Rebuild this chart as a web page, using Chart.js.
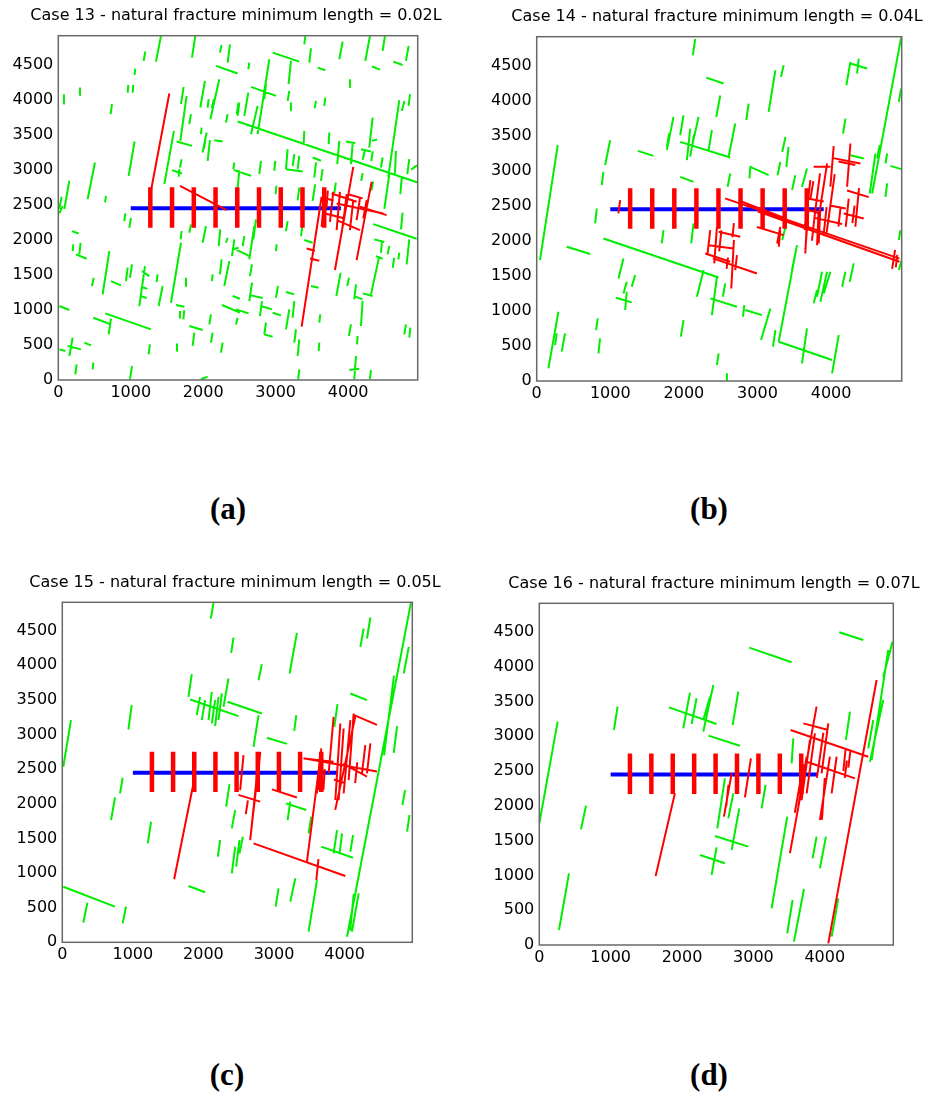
<!DOCTYPE html>
<html><head><meta charset="utf-8">
<script src="https://cdn.jsdelivr.net/npm/chart.js@4.4.1/dist/chart.umd.min.js"></script>
<style>
html,body{margin:0;padding:0;background:#fff;overflow:hidden;}
body{width:933px;height:1093px;position:relative;}
canvas{position:absolute;}
.lbl{position:absolute;font:bold 31px "Liberation Serif","Times New Roman",serif;color:#000;transform:translate(-50%,-50%);white-space:nowrap;}
</style></head><body>
<canvas id="c0" width="466" height="410" style="left:0;top:0"></canvas>
<canvas id="c1" width="463" height="410" style="left:470px;top:0"></canvas>
<canvas id="c2" width="466" height="410" style="left:0;top:560px"></canvas>
<canvas id="c3" width="463" height="410" style="left:470px;top:560px"></canvas>
<div class="lbl" id="l0" style="left:228px;top:509px"></div>
<div class="lbl" id="l1" style="left:709px;top:509px"></div>
<div class="lbl" id="l2" style="left:227px;top:1075px"></div>
<div class="lbl" id="l3" style="left:709px;top:1075px"></div>
<script>
// ---------------- DATA ----------------
const titles = [
  "Case 13 - natural fracture minimum length = 0.02L",
  "Case 14 - natural fracture minimum length = 0.04L",
  "Case 15 - natural fracture minimum length = 0.05L",
  "Case 16 - natural fracture minimum length = 0.07L"
];
const panelLabels = ["(a)", "(b)", "(c)", "(d)"];
const xTicks = [0, 1000, 2000, 3000, 4000];
const yTicks = [0, 500, 1000, 1500, 2000, 2500, 3000, 3500, 4000, 4500];
const domainX = [0, 4960];
const domainY = [0, 4910];

// horizontal wellbore [x1,y1,x2,y2]
const wellbore = [1000, 2450, 3900, 2450];
// hydraulic fracture stages (x position) and their vertical extent
const hfX = [1270, 1570, 1870, 2170, 2470, 2770, 3070, 3370, 3670];
const hfY = [2170, 2750];

// natural fractures (green) and propagated / activated fractures (red), [x1,y1,x2,y2] in m
const greenA = [
[1348,4541,1417,4907],[1178,4550,1201,4684],[1845,4598,1891,4907],[2231,4670,2254,4779],[2337,4527,2369,4788],
[2176,4479,2475,4370],[1053,4351,1063,4441],[957,4099,966,4209],[1026,4099,1035,4209],[290,4066,299,4170],
[69,3943,78,4075],[722,3791,741,3933],[1693,3933,1730,4180],[1960,3886,2024,4266],[2098,3719,2222,4289],
[1684,3411,1771,4052],[2116,3876,2148,4004],[2061,3886,2075,4004],[2461,3791,2489,3957],[1808,3648,1831,3791],
[2314,3672,2337,3791],[1969,3506,1978,3600],[1992,3244,2047,3529],[2061,3126,2093,3420],[2153,3420,2268,3401],
[1633,3401,1845,3339],[1463,2793,1596,3553],[971,2912,1053,3401],[405,2579,506,3102],[83,2437,152,2841],
[14,2437,46,2613],[644,2532,658,2627],[1679,3031,1702,3149],[1569,2993,1707,2945],[1661,2898,1670,3007],
[2415,3007,2429,3102],[2419,2993,2507,2974],[2010,3300,2030,3420],
[3395,4788,3409,4907],[4237,4550,4301,4907],[4476,4693,4508,4907],[3878,4574,3924,4826],[3464,4527,3487,4731],
[2958,4669,3326,4541],[2751,3505,2912,4574],[3178,4218,3211,4550],[2622,4432,2636,4527],[3579,4455,3685,4417],
[4329,4470,4439,4427],[4623,4541,4752,4493],[4798,4550,4835,4764],[4016,4180,4025,4289],[2659,4180,3004,4052],
[2843,4004,2866,4218],[3165,3980,3188,4123],[3202,3848,3211,3957],[3538,3876,3556,3980],[3671,3909,3685,4028],
[2567,3767,2622,4099],[2475,3767,2498,3957],[2659,3505,2751,3909],[2475,3686,4960,2817],[4554,2897,4706,3990],
[4743,3838,4775,3980],[4835,3909,4853,4075],[4292,3315,4338,3743],[3386,3363,3395,3553],[3731,3363,3740,3529],
[3850,3078,3878,3410],[3970,3401,4099,3377],[4039,3078,4062,3363],[3142,3007,3165,3292],[3142,3007,3372,2974],
[3234,3050,3257,3220],[3303,3007,3326,3197],[3510,3173,3625,3126],[3533,2888,3556,3102],[3625,2840,3648,3007],
[4177,3292,4315,3258],[4200,3140,4230,3270],[4320,3120,4340,3260],[4330,3410,4400,3430],[4453,3030,4476,3173],
[4646,2945,4660,3268],[4816,2935,4844,3149],[4870,3000,4950,3060],[2452,2983,2659,2912],[2774,2935,2797,3126],
[2981,2983,2995,3125],[3000,2650,3010,2770],[3303,2560,3326,2745],[3510,2555,3545,2790],[3810,2670,3830,2815],
[4180,2840,4200,2950],[4320,2700,4345,2830],[4500,2440,4568,2935],[4720,2650,4740,2890],[2475,2745,2498,2983],
[14,2375,60,2480],[911,2266,925,2375],[980,2171,1003,2313],[1546,2242,1555,2337],[1808,2100,1831,2218],
[1992,1957,2037,2195],[1688,2005,1702,2123],[2213,1910,2236,2147],[2314,1957,2337,2028],[2397,1767,2429,2005],
[2397,1862,2489,1886],[189,2123,281,2090],[198,1838,207,1933],[290,1791,308,1957],[244,1791,391,1729],
[612,1221,704,1838],[465,1340,488,1458],[727,1411,865,1349],[934,1411,957,1601],[989,1458,1017,1648],
[1118,1055,1196,1625],[1155,1553,1256,1482],[1140,1330,1230,1300],[1130,1200,1220,1170],[1357,1397,1371,1506],
[1385,1055,1440,1340],[1555,1102,1693,1957],[1753,1340,1762,1458],[2231,1506,2254,1720],[2291,1340,2360,1696],
[2121,1411,2130,1506],[2406,1197,2507,1159],[2259,1069,2507,960],[2452,793,2475,888],[14,1055,152,998],
[1624,1069,1739,1045],[1670,888,1679,983],[1725,865,1739,998],[2084,793,2107,936],[649,950,1279,722],
[483,888,727,793],[695,651,727,874],[1808,770,1992,713],[1854,485,1877,675],[2107,532,2130,675],
[2245,390,2268,532],[14,437,97,413],[152,342,198,603],[129,485,313,437],[359,532,451,494],
[1247,366,1265,508],[1633,413,1638,522],[235,81,253,223],[474,152,483,247],[989,10,1017,200],[1969,10,2061,48],
[2691,2005,2728,2290],[2636,1720,2705,2195],[2452,1862,2636,1767],[2545,1910,2567,2053],[3004,1838,3013,1933],
[3142,2123,3165,2266],[3349,2052,3372,2218],[3395,1996,3510,1958],[2645,1482,2673,1648],[2636,1126,2673,1387],
[2659,1207,2820,1169],[3004,1173,3032,1340],[3142,1254,3257,1221],[3487,1340,3593,1316],[2452,1007,2627,950],
[2783,912,2811,1126],[2797,1055,2949,1007],[2843,651,2866,817],[2843,651,2958,617],[2958,960,3073,922],
[3142,722,3188,1007],[3234,888,3257,1126],[3257,532,3280,722],[3303,342,3326,580],[3602,817,3616,935],
[3593,413,3602,532],[3310,10,3326,152],[3837,1197,3896,1530],[3988,1340,4011,1458],[4085,1150,4108,1363],
[4085,1197,4200,1150],[4177,770,4200,1126],[4011,627,4039,793],[4122,508,4131,627],[4085,10,4108,342],
[4016,143,4154,162],[4300,10,4315,143],[4347,2223,4945,2014],[4361,2005,4499,1967],[4384,1767,4476,1729],
[4315,1221,4430,1767],[4200,1235,4338,1197],[4453,1815,4467,1980],[4545,1791,4568,1910],[4614,1601,4637,1743],
[4693,1720,4706,1815],[4807,1648,4844,2005],[4729,2147,4752,2385],[4775,651,4798,793],[4844,603,4858,746]
];
const redA = [
[1270,2650,1532,4085],[1679,2769,2323,2423],[3358,760,3634,2613],[3427,1876,3542,1843],[3473,1734,3602,1700],
[3818,1568,4071,3040],[4117,1710,4324,2826],[3634,2185,3680,2707],[3749,2256,3795,2684],[3841,2137,3887,2684],
[3910,2090,3979,2612],[4025,2137,4071,2565],[4117,2280,4163,2589],[4209,2304,4255,2565],[3772,2660,4117,2541],
[3841,2518,4485,2375],[4163,2470,4531,2351],[3680,2375,3956,2304],[3841,2280,4163,2137],[3700,2450,3720,2700],
[3950,2400,3980,2650],[3650,2600,3800,2560],[4000,2650,4200,2590]
];

const greenB = [
[2122,4645,2154,4879],[2304,4327,2540,4242],[3152,3838,3243,4432],[3320,4337,3356,4503],[2440,3767,2494,4071],
[2848,3719,2880,3957],[4354,4384,4376,4598],[4208,4218,4263,4551],[4263,4527,4490,4456],[4558,2674,4952,4897],
[4921,3980,4952,4170],[1769,3292,1859,3767],[1950,3505,1995,3790],[2109,3339,2200,3767],[2041,3149,2086,3600],
[2086,3200,2140,3520],[1769,3340,1800,3530],[1950,3410,2630,3187],[2336,3292,2381,3577],[2608,3197,2698,3672],
[45,1724,286,3363],[930,3078,998,3434],[884,2793,907,2983],[1374,3282,1587,3211],[1950,2911,2131,2840],
[2902,3054,3152,2935],[2890,2890,2905,3070],[3336,3266,3381,3480],[3392,3053,3423,3338],[3273,2934,3310,3124],
[3605,2768,3673,3030],[3470,2722,3515,2935],[2594,2770,2630,2959],[4163,3529,4195,3743],[4263,3220,4444,3173],
[4526,2674,4603,3244],[4739,3102,4762,3244],[4739,2627,4762,2817],[4807,3068,4952,3021],[4626,3173,4662,3363],
[794,2247,816,2460],[1700,1962,1723,2152],[2100,1962,2131,2247],[408,1914,726,1810],[907,2033,2472,1477],
[1111,1463,1179,1748],[1179,1249,1224,1416],[1292,1344,1338,1510],[1075,1187,1292,1121],[1202,1012,1224,1273],
[2177,1202,2268,1582],[2381,940,2449,1486],[2358,1178,2721,1059],[2530,1202,2562,1392],[2803,917,2821,1083],
[2835,1012,3061,940],[3048,584,3175,1035],[3288,560,3537,1938],[3288,560,4014,299],[4014,109,4104,655],
[3605,252,3673,750],[3211,489,3243,727],[3469,1581,3514,1819],[3336,2009,3381,2198],[3855,1130,3946,1558],
[3809,1202,3878,1558],[3900,1250,3991,1558],[4150,1344,4195,1558],[4254,1416,4308,1677],[3764,1107,3809,1297],
[4921,2010,4943,2152],[4921,1582,4960,1724],[1959,632,1995,869],[807,727,830,893],[839,394,861,608],
[159,180,295,988],[340,418,385,679],[250,513,272,679],[2449,228,2472,394],[2576,0,2585,109]
];
const redB = [
[2560,2605,4930,1745],[3000,2420,4930,1700],[2780,2560,3400,2310],[1110,2390,1134,2580],
[2290,1819,2630,1700],[2322,1819,2358,2152],[2413,1677,2449,2200],[2480,1850,2510,2150],[2472,2128,2766,2057],
[2394,1748,2993,1534],[2644,1320,2680,2010],[2698,1582,2721,1795],[2580,1600,2600,1760],[2660,2050,2680,2250],
[2335,1937,2675,1890],[2993,2195,3356,2080],[3290,1914,3310,2152],[3267,1961,3310,2198],[3650,1819,3673,2293],
[3810,1937,3831,2436],[3991,2770,4036,3349],[4218,2770,4263,3387],[3855,2484,3946,3102],[3780,2380,3850,2960],
[3720,2600,3760,2850],[3940,2120,4050,2950],[3900,2100,3940,2480],[3642,2152,3719,2865],[3740,2000,3790,2480],
[3832,1962,3855,2484],[3650,1867,3696,2484],[4200,2200,4240,2600],[4290,2250,4320,2500],[4330,2200,4380,2750],
[4100,2200,4130,2480],[3764,3054,3991,3054],[4014,3182,4399,3102],[4100,3130,4330,3080],[4218,2717,4512,2622],
[4172,2389,4444,2318],[4000,2500,4200,2460],[3628,2460,3855,2389],[3760,2330,4150,2240],[3700,2600,3900,2560],
[4830,1600,4870,1870],[4880,1620,4900,1800]
];

const greenC = [
[2105,4675,2143,4901],[2393,4180,2426,4401],[3221,3882,3325,4468],[2781,3785,2828,4016],[4318,4387,4366,4690],
[4224,4267,4271,4531],[4035,80,4940,4900],[4560,2700,4700,3850],[4080,170,4130,700],[4839,3882,4910,4267],
[4697,2737,4744,3122],[4820,1982,4858,2198],[4886,1597,4920,1837],[4082,3593,4318,3497],[3855,3112,3900,3439],
[1788,3545,1835,3872],[1812,3507,2497,3266],[1906,3281,1953,3545],[1977,3209,2024,3497],[2072,3209,2119,3617],
[2119,3161,2166,3497],[2166,3122,2213,3545],[2213,3209,2261,3593],[2285,3400,2355,3810],[2340,3473,2827,3305],
[937,3073,984,3425],[14,2535,123,3209],[818,2150,856,2376],[691,1765,747,2092],[1211,1429,1258,1741],
[2710,2823,2781,3281],[2900,2953,3184,2866],[3287,3054,3316,3281],[2322,1958,2370,2285],[2403,1645,2450,1910],
[3170,2006,3458,1910],[3193,1765,3231,2030],[3490,1573,3528,1813],[2204,1236,2237,1477],[2403,996,2450,1380],
[2464,1092,2511,1477],[2511,1284,2559,1525],[3231,587,3302,924],[3022,515,3065,779],[3490,154,3609,899],
[3670,1381,4120,1222],[3845,1284,3893,1621],[3930,1284,3964,1573],[4082,1308,4120,1549],[14,803,747,515],
[298,284,355,572],[856,274,903,515],[1788,813,2024,722],[4105,154,4200,707]
];
const redC = [
[1585,910,1860,2300],[2521,2198,2568,2703],[2758,2198,2805,2751],[2663,1477,2781,2631],[2662,1478,2804,2731],
[2496,2129,2804,2032],[2600,1850,2630,2050],[2970,2208,3325,2092],[2710,1429,4011,957],[3467,1164,3656,2660],
[3600,900,3630,1200],[3420,2655,3845,2607],[3418,2659,4459,2465],[3609,2150,3656,2751],[3630,2200,3670,2800],
[3774,2438,3845,3256],[3869,2054,3940,3160],[3916,2054,3987,3088],[3987,2150,4082,3208],[4058,2342,4129,3304],
[4128,3285,4459,3140],[3868,1912,4152,3260],[4247,2438,4294,2847],[4318,2438,4366,2872],[3980,2580,4318,2391],
[3700,2200,3720,2500],[4150,2300,4180,2600],[3850,2350,4000,2300]
];

const greenD = [
[0,1748,257,3209],[1046,3090,1097,3425],[584,1662,654,2002],[276,216,416,1030],[2942,4273,3535,4062],
[4203,4493,4539,4383],[4819,3856,4950,4359],[4656,2658,4889,4239],[4633,2634,4819,3521],[4609,2826,4679,3233],
[4296,2946,4353,3353],[1817,3415,2484,3176],[2017,3113,2111,3626],[2134,3176,2204,3545],[2298,3066,2438,3736],
[2298,3233,2391,3568],[2709,3161,2788,3640],[2368,3008,2811,2864],[3115,1964,3171,2299],[3535,2610,3559,2970],
[2494,1676,2601,2395],[2648,1820,2718,2179],[2695,1365,2802,1964],[2461,1566,2928,1413],[2251,1293,2601,1174],
[2414,1006,2484,1403],[3255,527,3474,1844],[3474,168,3549,647],[3568,48,3708,805],[3829,1245,3885,1557],
[3932,1102,4016,1557],[4096,120,4189,671]
];
const redD = [
[1630,990,1900,2180],[2881,2122,2965,2682],[2587,1844,2695,2467],[2620,2000,2650,2300],[3512,1320,3885,3425],
[4049,24,4726,3808],[3521,3090,4609,2706],[3699,3185,4049,3090],[3746,2634,4423,2395],[3955,2467,4049,3185],
[3890,2400,3980,3050],[3746,2179,3862,3041],[3675,2083,3792,2946],[3629,1988,3746,2706],[3580,1900,3700,2600],
[3960,1800,4000,2400],[3932,1796,4072,2706],[4096,2179,4166,2706],[4280,2400,4310,2650],[4330,2550,4360,2800],
[4260,2500,4290,2800],[3720,2500,3760,2700]
];

// ---------------- LAYOUT / STYLE ----------------
const panelData = [
  {green: greenA, red: redA}, {green: greenB, red: redB},
  {green: greenC, red: redC}, {green: greenD, red: redD}
];
const layouts = [
  {w:466, h:410, l:58.3, t:35.7, r:417.7, b:380, tx:236, ty:16.3},
  {w:463, h:410, l:66.7, t:36.7, r:431.7, b:381, tx:247, ty:16.5},
  {w:466, h:410, l:62.3, t:42.3, r:412.3, b:382.3, tx:235, ty:23},
  {w:463, h:410, l:69.3, t:43.3, r:423.3, b:385, tx:244, ty:24}
];
const FONT = '"DejaVu Sans", Verdana, sans-serif';
const GREEN = '#00ee00', RED = '#ff0000', BLUE = '#0000ff';

function segData(segs) {
  const out = [];
  segs.forEach(s => {
    out.push({x: s[0], y: s[1]}, {x: s[2], y: s[3]}, {x: s[2], y: null});
  });
  return out;
}
function ds(segs, color, width) {
  return {data: segData(segs), borderColor: color, backgroundColor: color, borderWidth: width,
          showLine: true, pointRadius: 0, pointHoverRadius: 0, spanGaps: false, tension: 0,
          borderCapStyle: 'butt', borderJoinStyle: 'miter'};
}

const framePlugin = {
  id: 'frame',
  afterDatasetsDraw(chart, args, opts) {
    const a = chart.chartArea, ctx = chart.ctx;
    ctx.save();
    ctx.strokeStyle = '#686868';
    ctx.lineWidth = 1.5;
    ctx.strokeRect(a.left, a.top, a.right - a.left, a.bottom - a.top);
    ctx.restore();
  },
  afterDraw(chart, args, opts) {
    const ctx = chart.ctx;
    ctx.save();
    ctx.fillStyle = '#000';
    ctx.font = '16px ' + FONT;
    ctx.textAlign = 'center';
    ctx.textBaseline = 'middle';
    ctx.fillText(opts.text, opts.x, opts.y);
    ctx.restore();
  }
};

layouts.forEach((L, i) => {
  const d = panelData[i];
  const bars = hfX.map(x => [x, hfY[0], x, hfY[1]]);
  document.getElementById('l' + i).textContent = panelLabels[i];
  new Chart(document.getElementById('c' + i), {
    type: 'scatter',
    data: {datasets: [
      ds(bars, RED, 4.5),
      ds(d.red, RED, 2),
      ds([wellbore], BLUE, 4),
      ds(d.green, GREEN, 2)
    ]},
    options: {
      responsive: false, animation: false, devicePixelRatio: 1, events: [],
      layout: {padding: {left: 0, top: L.t, right: L.w - L.r, bottom: 0}},
      plugins: {legend: {display: false}, tooltip: {enabled: false},
                frame: {text: titles[i], x: L.tx, y: L.ty}},
      scales: {
        x: {type: 'linear', min: domainX[0], max: domainX[1],
            grid: {display: false, drawTicks: false}, border: {display: false},
            afterBuildTicks: s => { s.ticks = xTicks.map(v => ({value: v})); },
            ticks: {font: {family: FONT, size: 16}, color: '#000', padding: 3, maxRotation: 0, autoSkip: false,
                    callback: v => String(v)},
            afterFit: s => { s.height = L.h - L.b; }},
        y: {type: 'linear', min: domainY[0], max: domainY[1],
            grid: {display: false, drawTicks: false}, border: {display: false},
            afterBuildTicks: s => { s.ticks = yTicks.map(v => ({value: v})); },
            ticks: {font: {family: FONT, size: 16}, color: '#000', padding: 5, autoSkip: false,
                    callback: v => String(v)},
            afterFit: s => { s.width = L.l; }}
      }
    },
    plugins: [framePlugin]
  });
});
</script>
</body></html>
